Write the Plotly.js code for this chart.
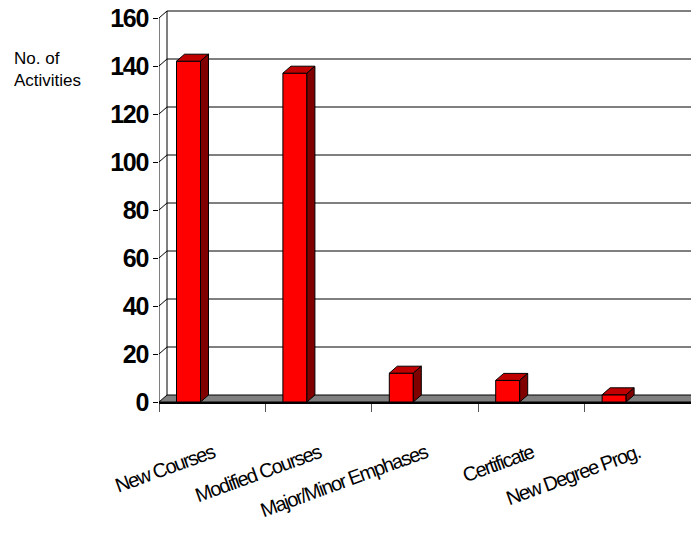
<!DOCTYPE html>
<html><head><meta charset="utf-8">
<script src="https://cdn.plot.ly/plotly-3.0.1.min.js"></script>
<style>
body{margin:0;background:#fff;}
.ytick text{letter-spacing:-1.3px;}
.xtick text{letter-spacing:-1.5px;}
</style>
</head><body><div id="chart" style="width:691px;height:537px;"></div>
<script>
// ---- data ----
const categories = ["New Courses", "Modified Courses", "Major/Minor Emphases", "Certificate", "New Degree Prog."];
const activities = [142, 137, 12, 9, 3];
const yTicks = [0, 20, 40, 60, 80, 100, 120, 140, 160];
const yTitle = "No. of<br>Activities";

// ---- geometry / style ----
const W = 691, H = 537;
const M = {l: 159, r: 0, t: 8, b: 135};
const plotW = W - M.l - M.r, plotH = H - M.t - M.b;
const yMax = 160, frontSpanPx = 384;           // 0..160 on the front plane
const pxPerUnit = frontSpanPx / yMax;
const yTop = plotH / pxPerUnit;
const pxPerCat = plotW / categories.length;
const depthX = 8, depthY = 7;                  // 3-D depth in px
const dX = depthX / pxPerCat, dY = depthY / pxPerUnit;
const barOffset = -0.3355, barWidth = 0.2256;
const red = "#FF0000", redTop = "#C00000", redSide = "#800000";
const font = "Liberation Sans, Arial, sans-serif";

const shapes = [];
const xL = -0.5, xR = categories.length - 0.5;
// floor
shapes.push({type: "path", xref: "x", yref: "y", layer: "below",
  path: `M${xL},0 L${xR},0 L${xR + dX},${dY} L${xL + dX},${dY} Z`,
  fillcolor: "#808080", line: {color: "#000", width: 1}});
// back wall gridlines + left wall diagonals
yTicks.forEach(v => {
  if (v > 0) {
    shapes.push({type: "line", xref: "x", yref: "y", layer: "below",
      x0: xL + dX, x1: xR + dX, y0: v + dY, y1: v + dY, line: {color: "#000", width: 1}});
    shapes.push({type: "line", xref: "x", yref: "y", layer: "below",
      x0: xL, x1: xL + dX, y0: v, y1: v + dY, line: {color: "#000", width: 1}});
  }
});
// back wall left edge
shapes.push({type: "line", xref: "x", yref: "y", layer: "below",
  x0: xL + dX, x1: xL + dX, y0: dY, y1: yMax + dY, line: {color: "#000", width: 1}});
// front left axis line
shapes.push({type: "line", xref: "x", yref: "y", layer: "above",
  x0: xL, x1: xL, y0: 0, y1: yMax, line: {color: "#000", width: 1}});
// bar top and side faces
activities.forEach((v, i) => {
  const a = i + barOffset, b = a + barWidth;
  shapes.push({type: "path", xref: "x", yref: "y", layer: "above",
    path: `M${a},${v} L${b},${v} L${b + dX},${v + dY} L${a + dX},${v + dY} Z`,
    fillcolor: redTop, line: {color: "#000", width: 1}});
  shapes.push({type: "path", xref: "x", yref: "y", layer: "above",
    path: `M${b},0 L${b},${v} L${b + dX},${v + dY} L${b + dX},${dY} Z`,
    fillcolor: redSide, line: {color: "#000", width: 1}});
});

const traces = [{
  type: "bar", x: categories, y: activities,
  offset: barOffset, width: barWidth,
  marker: {color: red, line: {color: "#000", width: 1}},
  hoverinfo: "skip"
}];

const layout = {
  width: W, height: H, margin: M,
  paper_bgcolor: "#fff", plot_bgcolor: "rgba(0,0,0,0)",
  showlegend: false,
  font: {family: font, color: "#000"},
  xaxis: {
    type: "category", range: [xL, xR], fixedrange: true,
    showgrid: false, zeroline: false,
    showline: true, linecolor: "#000", linewidth: 2,
    ticks: "outside", tickson: "boundaries", ticklen: 8, tickcolor: "#555", tickwidth: 1,
    tickangle: -20, ticklabelstandoff: 30,
    tickfont: {family: font, size: 20, color: "#000"}
  },
  yaxis: {
    range: [0, yTop], fixedrange: true,
    tickvals: yTicks, ticktext: yTicks.map(String),
    showgrid: false, zeroline: false, showline: false,
    ticks: "outside", ticklen: 5, tickcolor: "#000", tickwidth: 1,
    tickfont: {family: font, size: 25, color: "#000", weight: "bold"}
  },
  shapes: shapes,
  annotations: [{
    text: yTitle, xref: "paper", yref: "paper",
    x: (12 - M.l) / plotW, y: (H - M.b - 47) / plotH,
    xanchor: "left", yanchor: "top", align: "left", showarrow: false,
    font: {family: font, size: 17, color: "#000"}
  }]
};

Plotly.newPlot("chart", traces, layout, {displayModeBar: false, staticPlot: true});
</script>
</body></html>
